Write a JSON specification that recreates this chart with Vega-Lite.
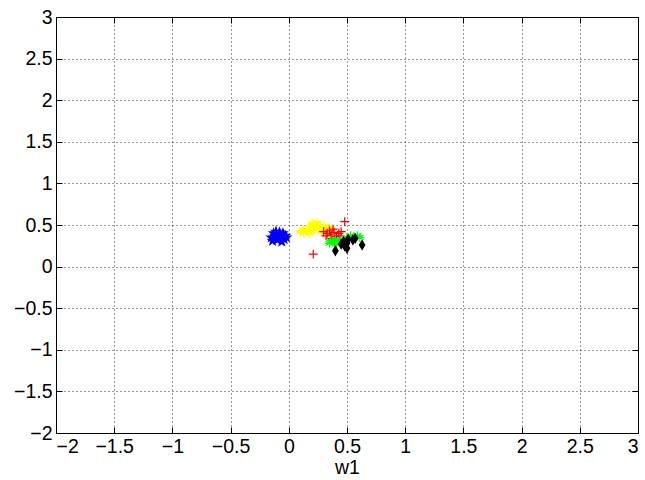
{
  "$schema": "https://vega.github.io/schema/vega-lite/v6.json",
  "width": 582,
  "height": 416,
  "autosize": "none",
  "padding": {"left": 56, "top": 17, "right": 7, "bottom": 47},
  "background": "white",
  "config": {
    "view": {"stroke": "black", "strokeWidth": 1},
    "axis": {
      "labelFont": "Liberation Sans",
      "titleFont": "Liberation Sans",
      "labelFontSize": 19.5,
      "titleFontSize": 19.5,
      "labelColor": "black",
      "titleColor": "black",
      "titleFontWeight": "normal",
      "domainColor": "black",
      "tickColor": "black",
      "tickSize": -6,
      "labelPadding": 10,
      "format": "~g",
      "gridColor": "black",
      "gridDash": [1, 3],
      "gridOpacity": 0.8,
      "gridWidth": 1
    }
  },
  "data": {
    "values": [
      {"w1": -0.15, "w2": 0.35, "group": "A"},
      {"w1": -0.13, "w2": 0.40, "group": "A"},
      {"w1": -0.11, "w2": 0.42, "group": "A"},
      {"w1": -0.09, "w2": 0.38, "group": "A"},
      {"w1": -0.07, "w2": 0.36, "group": "A"},
      {"w1": -0.05, "w2": 0.40, "group": "A"},
      {"w1": -0.04, "w2": 0.33, "group": "A"},
      {"w1": -0.06, "w2": 0.30, "group": "A"},
      {"w1": -0.10, "w2": 0.32, "group": "A"},
      {"w1": -0.12, "w2": 0.36, "group": "A"},
      {"w1": -0.08, "w2": 0.41, "group": "A"},
      {"w1": -0.03, "w2": 0.37, "group": "A"},
      {"w1": -0.14, "w2": 0.31, "group": "A"},
      {"w1": -0.02, "w2": 0.35, "group": "A"},
      {"w1": -0.10, "w2": 0.37, "group": "A"},
      {"w1": 0.10, "w2": 0.42, "group": "B"},
      {"w1": 0.13, "w2": 0.40, "group": "B"},
      {"w1": 0.15, "w2": 0.45, "group": "B"},
      {"w1": 0.17, "w2": 0.43, "group": "B"},
      {"w1": 0.19, "w2": 0.48, "group": "B"},
      {"w1": 0.20, "w2": 0.52, "group": "B"},
      {"w1": 0.22, "w2": 0.50, "group": "B"},
      {"w1": 0.24, "w2": 0.53, "group": "B"},
      {"w1": 0.25, "w2": 0.47, "group": "B"},
      {"w1": 0.27, "w2": 0.49, "group": "B"},
      {"w1": 0.29, "w2": 0.46, "group": "B"},
      {"w1": 0.31, "w2": 0.48, "group": "B"},
      {"w1": 0.33, "w2": 0.45, "group": "B"},
      {"w1": 0.35, "w2": 0.47, "group": "B"},
      {"w1": 0.18, "w2": 0.40, "group": "B"},
      {"w1": 0.22, "w2": 0.44, "group": "B"},
      {"w1": 0.28, "w2": 0.42, "group": "B"},
      {"w1": 0.12, "w2": 0.44, "group": "B"},
      {"w1": 0.30, "w2": 0.42, "group": "C"},
      {"w1": 0.33, "w2": 0.40, "group": "C"},
      {"w1": 0.35, "w2": 0.43, "group": "C"},
      {"w1": 0.37, "w2": 0.38, "group": "C"},
      {"w1": 0.39, "w2": 0.41, "group": "C"},
      {"w1": 0.41, "w2": 0.36, "group": "C"},
      {"w1": 0.43, "w2": 0.40, "group": "C"},
      {"w1": 0.45, "w2": 0.42, "group": "C"},
      {"w1": 0.36, "w2": 0.34, "group": "C"},
      {"w1": 0.40, "w2": 0.33, "group": "C"},
      {"w1": 0.32, "w2": 0.37, "group": "C"},
      {"w1": 0.44, "w2": 0.37, "group": "C"},
      {"w1": 0.21, "w2": 0.15, "group": "C"},
      {"w1": 0.48, "w2": 0.54, "group": "C"},
      {"w1": 0.38, "w2": 0.45, "group": "C"},
      {"w1": 0.35, "w2": 0.28, "group": "D"},
      {"w1": 0.38, "w2": 0.30, "group": "D"},
      {"w1": 0.41, "w2": 0.27, "group": "D"},
      {"w1": 0.44, "w2": 0.31, "group": "D"},
      {"w1": 0.47, "w2": 0.33, "group": "D"},
      {"w1": 0.50, "w2": 0.35, "group": "D"},
      {"w1": 0.53, "w2": 0.37, "group": "D"},
      {"w1": 0.56, "w2": 0.36, "group": "D"},
      {"w1": 0.59, "w2": 0.37, "group": "D"},
      {"w1": 0.61, "w2": 0.35, "group": "D"},
      {"w1": 0.40, "w2": 0.32, "group": "D"},
      {"w1": 0.46, "w2": 0.29, "group": "D"},
      {"w1": 0.55, "w2": 0.33, "group": "D"},
      {"w1": 0.36, "w2": 0.31, "group": "D"},
      {"w1": 0.40, "w2": 0.19, "group": "E"},
      {"w1": 0.47, "w2": 0.30, "group": "E"},
      {"w1": 0.50, "w2": 0.22, "group": "E"},
      {"w1": 0.51, "w2": 0.33, "group": "E"},
      {"w1": 0.48, "w2": 0.25, "group": "E"},
      {"w1": 0.55, "w2": 0.32, "group": "E"},
      {"w1": 0.57, "w2": 0.34, "group": "E"},
      {"w1": 0.63, "w2": 0.26, "group": "E"},
      {"w1": 0.50, "w2": 0.28, "group": "E"},
      {"w1": 0.45, "w2": 0.27, "group": "E"}
    ]
  },
  "layer": [
    {
      "mark": {"type": "point", "filled": false, "strokeWidth": 1.2, "opacity": 1},
      "encoding": {
        "x": {"field": "w1", "type": "quantitative", "title": "w1",
              "scale": {"domain": [-2, 3], "nice": false, "zero": false},
              "axis": {"values": [-2, -1.5, -1, -0.5, 0, 0.5, 1, 1.5, 2, 2.5, 3], "titlePadding": 3, "grid": true}},
        "y": {"field": "w2", "type": "quantitative", "title": null,
              "scale": {"domain": [-2, 3], "nice": false, "zero": false},
              "axis": {"values": [-2, -1.5, -1, -0.5, 0, 0.5, 1, 1.5, 2, 2.5, 3], "grid": true}},
        "color": {"field": "group", "type": "nominal", "legend": null,
                  "scale": {"domain": ["A", "B", "C", "D", "E"], "range": ["#0000ff", "#ffff00", "#ff0000", "#00ff00", "#000000"]}},
        "fill": {"field": "group", "type": "nominal", "legend": null,
                  "scale": {"domain": ["A", "B", "C", "D", "E"], "range": ["#0000ff", "transparent", "transparent", "transparent", "#000000"]}},
        "shape": {"field": "group", "type": "nominal", "legend": null,
                  "scale": {"domain": ["A", "B", "C", "D", "E"],
                            "range": ["M0,-1L0.235,-0.324L0.951,-0.309L0.38,0.124L0.588,0.809L0,0.4L-0.588,0.809L-0.38,0.124L-0.951,-0.309L-0.235,-0.324Z",
                                      "M0,-1L0,1M-0.87,-0.5L0.87,0.5M-0.87,0.5L0.87,-0.5M-1,0L1,0",
                                      "M-1,0L1,0M0,-1L0,1",
                                      "M0,-1L0,1M-0.87,-0.5L0.87,0.5M-0.87,0.5L0.87,-0.5M-1,0L1,0",
                                      "M0,-1L0.6,0L0,1L-0.6,0Z"]}},
        "size": {"value": 80}
      }
    },
    {
      "mark": {"type": "point", "opacity": 0},
      "encoding": {
        "x": {"field": "w1", "type": "quantitative",
              "scale": {"domain": [-2, 3], "nice": false, "zero": false},
              "axis": {"orient": "top", "title": null, "labels": false, "grid": false, "values": [-2, -1.5, -1, -0.5, 0, 0.5, 1, 1.5, 2, 2.5, 3]}},
        "y": {"field": "w2", "type": "quantitative",
              "scale": {"domain": [-2, 3], "nice": false, "zero": false},
              "axis": {"orient": "right", "title": null, "labels": false, "grid": false, "values": [-2, -1.5, -1, -0.5, 0, 0.5, 1, 1.5, 2, 2.5, 3]}}
      }
    }
  ],
  "resolve": {"axis": {"x": "independent", "y": "independent"}}
}
